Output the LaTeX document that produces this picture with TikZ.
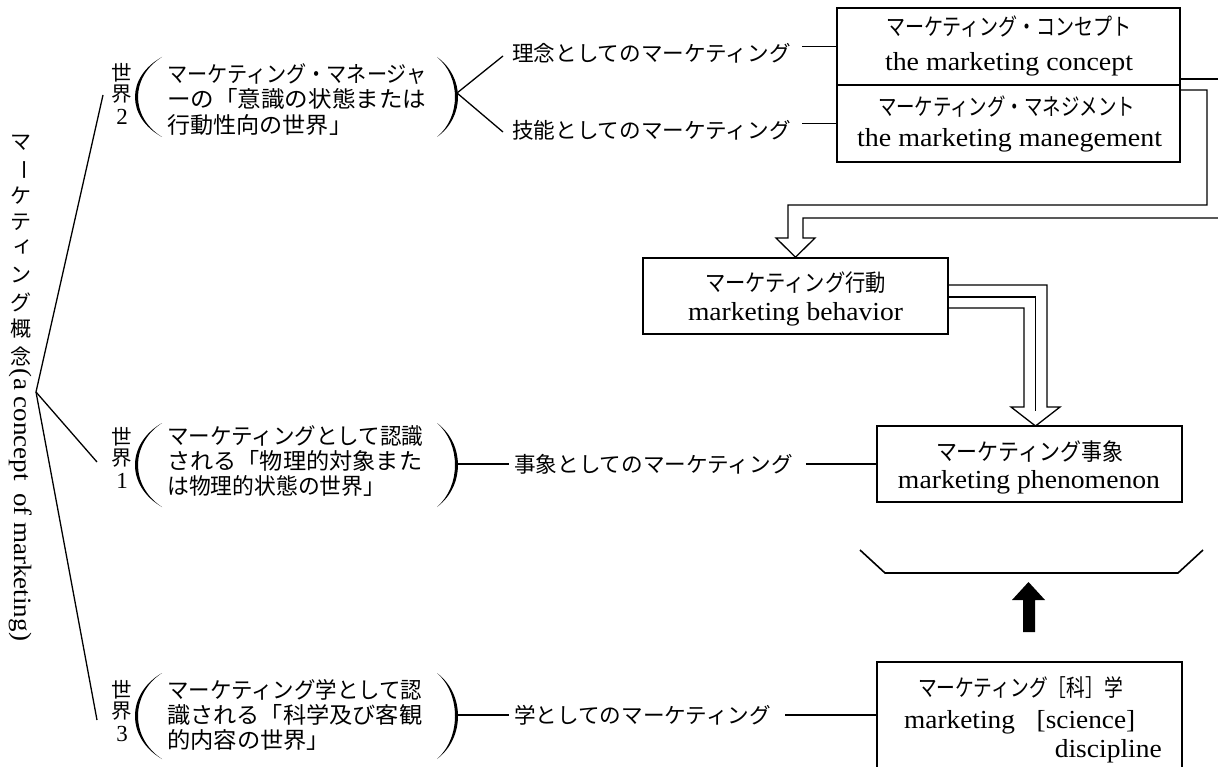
\documentclass[tikz,border=0pt]{standalone}
\usepackage{fontspec}
\usepackage{graphicx}
\setmainfont{Liberation Serif}
\newfontfamily\jp{Noto Sans CJK JP}
\newcommand{\fitw}[2]{\resizebox{#1pt}{\height}{#2}}
\tikzset{
  ln/.style={line width=1.3pt},
  boxn/.style={draw, line width=1.6pt, inner sep=0pt},
  jpt/.style={font=\jp\fontsize{22.5}{25}\selectfont, inner sep=0pt, anchor=west},
  jpl/.style={font=\jp\fontsize{21.6}{25}\selectfont, inner sep=0pt, anchor=west},
  jpb/.style={font=\jp\fontsize{23.5}{26}\selectfont, inner sep=0pt},
  jpv/.style={font=\jp\fontsize{21}{24}\selectfont, inner sep=0pt},
  jps/.style={font=\jp\fontsize{20.5}{22}\selectfont, inner sep=0pt},
  ent/.style={font=\fontsize{26}{28}\selectfont, inner sep=0pt, anchor=base},
  dig/.style={font=\fontsize{23}{23}\selectfont, inner sep=0pt},
}
\begin{document}
\begin{tikzpicture}[x=1pt,y=-1pt]
\fill[white] (0,0) rectangle (1218,767);
\useasboundingbox (0,0) rectangle (1218,767);

% ---- left vertical title
\node[jpv] (v1) at (21,143) {マ};
\node[jpv, rotate=-90] (v2) at (21,170) {ー};
\node[jpv] (v3) at (21,196) {ケ};
\node[jpv] (v4) at (21,222.5) {テ};
\node[jpv] (v5) at (23,247) {ィ};
\node[jpv] (v6) at (21,275.5) {ン};
\node[jpv] (v7) at (21,302) {グ};
\node[jpv] (v8) at (21,329) {概};
\node[jpv] (v9) at (21,356) {念};
\node[rotate=-90, font=\fontsize{25}{27}\selectfont, inner sep=0pt] (vlat) at (21,505) {\fitw{272}{(a concept\hspace{0.45em}of marketing)}};

% ---- tree
\coordinate (root) at (36,392);
\coordinate (t2) at (103,95);
\coordinate (t1) at (97,462);
\coordinate (t3) at (97,720);
\draw[ln] (t2) -- (root) -- (t3);
\draw[ln] (root) -- (t1);

% ---- world labels
\node[jps] (s2a) at (122,73) {世};
\node[jps] (s2b) at (122,94) {界};
\node[dig] (s2c) at (122,117) {2};
\node[jps] (s1a) at (122,437) {世};
\node[jps] (s1b) at (122,458) {界};
\node[dig] (s1c) at (122,481) {1};
\node[jps] (s3a) at (122,690) {世};
\node[jps] (s3b) at (122,711) {界};
\node[dig] (s3c) at (122,734) {3};

% ---- parentheses
\fill (162,57) .. controls (126,77) and (126,117) .. (162,137) .. controls (130,117) and (130,77) .. cycle;
\fill (437,57) .. controls (465,77) and (465,117) .. (437,137) .. controls (461,117) and (461,77) .. cycle;
\fill (162,423) .. controls (126,444) and (126,486) .. (162,507) .. controls (130,486) and (130,444) .. cycle;
\fill (437,423) .. controls (465,444) and (465,486) .. (437,507) .. controls (461,486) and (461,444) .. cycle;
\fill (162,673) .. controls (126,694) and (126,738) .. (162,759) .. controls (130,738) and (130,694) .. cycle;
\fill (437,673) .. controls (465,694) and (465,738) .. (437,759) .. controls (461,738) and (461,694) .. cycle;

% ---- group texts
\node[jpt] (g2r1) at (167,74) {\fitw{259}{マーケティング・マネージャ}};
\node[jpt] (g2r2) at (167,99) {\fitw{259}{ーの「意識の状態または}};
\node[jpt] (g2r3) at (167,125) {\fitw{185}{行動性向の世界」}};
\node[jpt] (g1r1) at (167,436) {\fitw{256}{マーケティングとして認識}};
\node[jpt] (g1r2) at (167,461) {\fitw{255}{される「物理的対象また}};
\node[jpt] (g1r3) at (167,486) {\fitw{218}{は物理的状態の世界」}};
\node[jpt] (g3r1) at (167,690) {\fitw{255}{マーケティング学として認}};
\node[jpt] (g3r2) at (167,715) {\fitw{255}{識される「科学及び客観}};
\node[jpt] (g3r3) at (167,740) {\fitw{163}{的内容の世界」}};

% ---- boxes
\node[boxn, minimum width=343pt, minimum height=77pt] (concept) at (1008.5,46.5) {};
\node[boxn, minimum width=343pt, minimum height=77pt] (manage) at (1008.5,123.5) {};
\node[boxn, minimum width=305pt, minimum height=76pt] (behav) at (795.5,296) {};
\node[boxn, minimum width=305pt, minimum height=76pt] (phen) at (1029.5,464) {};
\node[boxn, minimum width=305pt, minimum height=138pt] (sci) at (1029.5,731) {};

\node[jpb] (conceptj) at (1009,27) {\fitw{246}{マーケティング・コンセプト}};
\node[ent] (concepte) at (1009,71) {\fitw{248}{the marketing concept}};
\node[jpb] (managej) at (1006.5,107) {\fitw{257}{マーケティング・マネジメント}};
\node[ent] (managee) at (1009.5,147) {\fitw{305}{the marketing manegement}};
\node[jpb] (behavj) at (795.5,283) {\fitw{181}{マーケティング行動}};
\node[ent] (behave) at (795.5,320) {\fitw{215}{marketing behavior}};
\node[jpb] (phenj) at (1029.5,452) {\fitw{187}{マーケティング事象}};
\node[ent] (phene) at (1029,488) {\fitw{262}{marketing phenomenon}};
\node[jpb] (scij) at (1020.5,688) {\fitw{205}{マーケティング［科］学}};
\node[ent, anchor=base west] (scie1) at (904,728) {\fitw{231}{marketing\hspace{0.8em}[science]}};
\node[ent, anchor=base east] (scie2) at (1162,757) {\fitw{107}{discipline}};

% ---- branch labels
\node[jpl] (idea) at (512,53) {理念としてのマーケティング};
\node[jpl] (skill) at (512,130) {技能としてのマーケティング};
\node[jpl] (event) at (514,464) {事象としてのマーケティング};
\node[jpl] (disc) at (514,715) {学としてのマーケティング};

\coordinate (bv) at (457,93);
\coordinate (bu) at (503,56);
\coordinate (bl) at (503,132);
\draw[ln] (bu) -- (bv) -- (bl);
\draw[ln] (concept.west) -- ++(-34,0);
\draw[ln] (manage.west) -- ++(-34,0);

\coordinate (p1) at (457,464);
\draw[ln] (p1) -- ([xshift=-5pt]event.west);
\draw[ln] ([xshift=13pt]event.east) -- (phen.west);
\coordinate (p3) at (457,715);
\draw[ln] (p3) -- ([xshift=-5pt]disc.west);
\draw[ln] ([xshift=14pt]disc.east) -- (sci.west |- disc.east);

% ---- double-line hollow arrow
\draw[ln] (concept.east |- 0,79) -- (1230,79);
\draw[ln, line join=miter] (manage.east |- 0,90) -- (1207,90) -- (1207,205) -- (788,205) -- (788,238) -- (776,238)
  -- (behav.north) -- (815,238) -- (803,238) -- (803,218) -- (1230,218);

% ---- triple-line hollow arrow
\coordinate (tip) at (1035.5,426);
\draw[ln, line join=miter] (behav.east |- 0,285) -- (1047,285) -- (1047,407) -- (1060,407) -- (tip)
  -- (1011,407) -- (1024,407) -- (1024,308) -- (behav.east |- 0,308);
\draw[ln] (behav.east |- 0,297) -- (1035.5,297) -- (1035.5,411);

% ---- bracket and solid arrow
\draw[line width=1.6pt] (860,550) -- (885,573) -- (1178,573) -- (1203,550);
\fill (1023,632) -- (1023,600) -- (1012,600) -- (1028.5,582) -- (1045,600) -- (1035,600) -- (1035,632) -- cycle;
\end{tikzpicture}
\end{document}
